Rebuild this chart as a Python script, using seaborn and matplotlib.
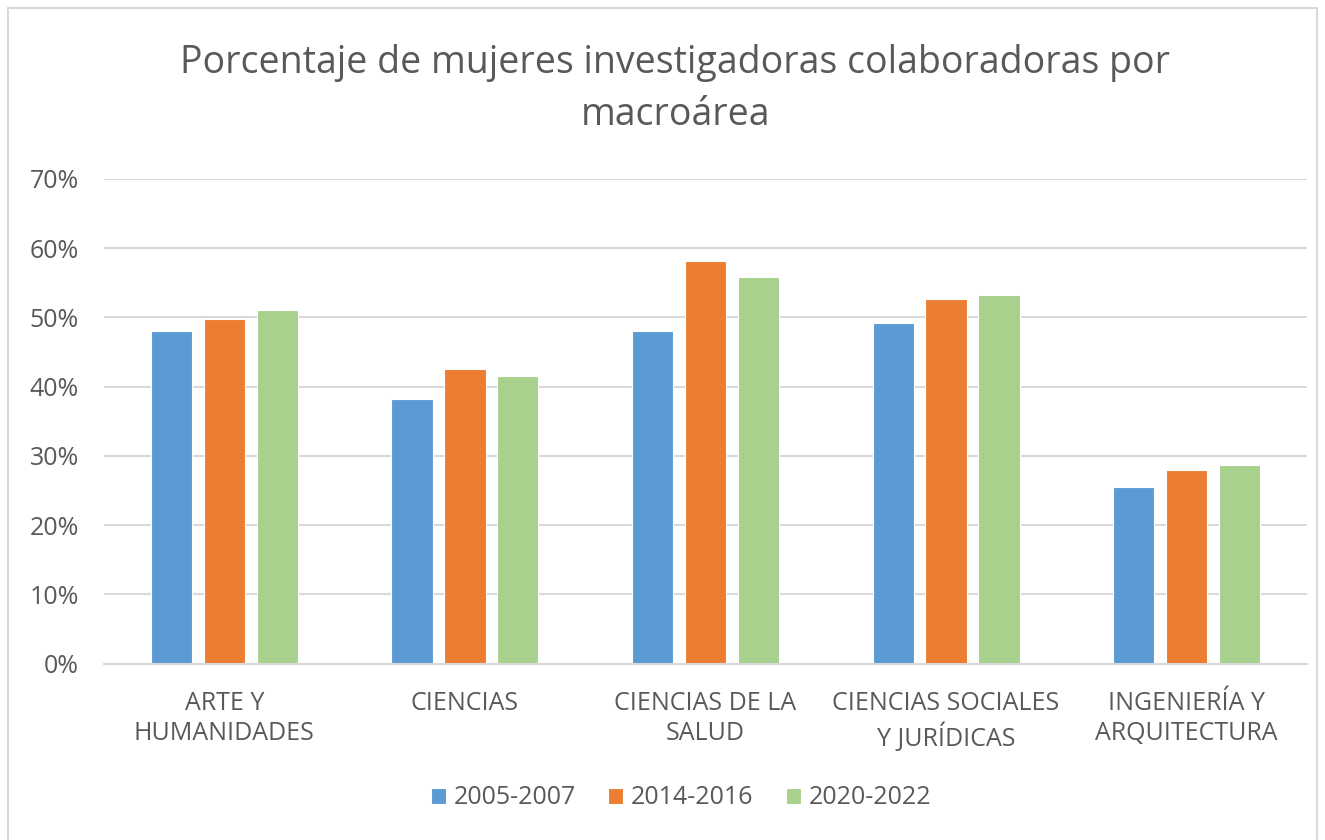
import matplotlib

matplotlib.use("Agg")

import matplotlib.pyplot as plt
import pandas as pd
import seaborn as sns
from matplotlib.patches import Rectangle
from matplotlib.ticker import FuncFormatter

CATEGORIES = [
    "ARTE Y\nHUMANIDADES",
    "CIENCIAS",
    "CIENCIAS DE LA\nSALUD",
    "CIENCIAS SOCIALES\nY JURÍDICAS",
    "INGENIERÍA Y\nARQUITECTURA",
]
PERIODS = ["2005-2007", "2014-2016", "2020-2022"]
VALUES_2005 = [0.481, 0.382, 0.481, 0.492, 0.255]
VALUES_2014 = [0.498, 0.426, 0.581, 0.527, 0.279]
VALUES_2020 = [0.511, 0.415, 0.559, 0.533, 0.287]
COLORS = ["#5B9BD5", "#ED7D31", "#A9D18E"]
TEXT_COLOR = "#595959"
GRID_COLOR = "#D9D9D9"

df = pd.DataFrame(
    {
        "macroarea": CATEGORIES * 3,
        "periodo": [p for p in PERIODS for _ in CATEGORIES],
        "valor": VALUES_2005 + VALUES_2014 + VALUES_2020,
    }
)

sns.set_theme(style="white")
plt.rcParams["font.family"] = ["Open Sans", "DejaVu Sans"]

fig = plt.figure(figsize=(13.25, 8.4), dpi=100)
ax = fig.add_axes([104 / 1325, 1 - 663.5 / 840, (1307 - 104) / 1325, (663.5 - 179) / 840])

sns.barplot(
    data=df,
    x="macroarea",
    y="valor",
    hue="periodo",
    palette=COLORS,
    saturation=1,
    width=0.66,
    gap=0.22,
    edgecolor="white",
    linewidth=0.8,
    ax=ax,
    legend=True,
)

ax.set_ylim(0, 0.7)
ax.set_yticks([i / 10 for i in range(8)])
ax.yaxis.set_major_formatter(FuncFormatter(lambda v, _: f"{v * 100:.0f}%"))
ax.grid(axis="y", color=GRID_COLOR, linewidth=1.5)
ax.set_axisbelow(True)
for side in ["top", "right", "left"]:
    ax.spines[side].set_visible(False)
ax.spines["bottom"].set_color(GRID_COLOR)
ax.spines["bottom"].set_linewidth(1.5)
ax.tick_params(axis="both", length=0, labelsize=18, colors=TEXT_COLOR)
ax.tick_params(axis="x", pad=20)
ax.tick_params(axis="y", pad=18)
for label in ax.get_xticklabels():
    label.set_linespacing(1.25)
ax.set_xlabel("")
ax.set_ylabel("")

ax.legend(
    loc="center",
    bbox_to_anchor=(681 / 1325, 1 - 798 / 840),
    bbox_transform=fig.transFigure,
    ncol=3,
    frameon=False,
    fontsize=18,
    labelcolor=TEXT_COLOR,
    handlelength=0.6,
    handleheight=0.6,
    handletextpad=0.3,
    columnspacing=1.3,
)

fig.text(
    675 / 1325,
    1 - 89 / 840,
    "Porcentaje de mujeres investigadoras colaboradoras por\nmacroárea",
    ha="center",
    va="center",
    fontsize=27,
    color=TEXT_COLOR,
    linespacing=1.45,
)

fig.patches.append(
    Rectangle(
        (8 / 1325, -0.01),
        (1317 - 8) / 1325,
        1 - 8 / 840 + 0.01,
        transform=fig.transFigure,
        fill=False,
        edgecolor=GRID_COLOR,
        linewidth=1.5,
    )
)

fig.savefig("out.png", dpi=100)
plt.close(fig)
